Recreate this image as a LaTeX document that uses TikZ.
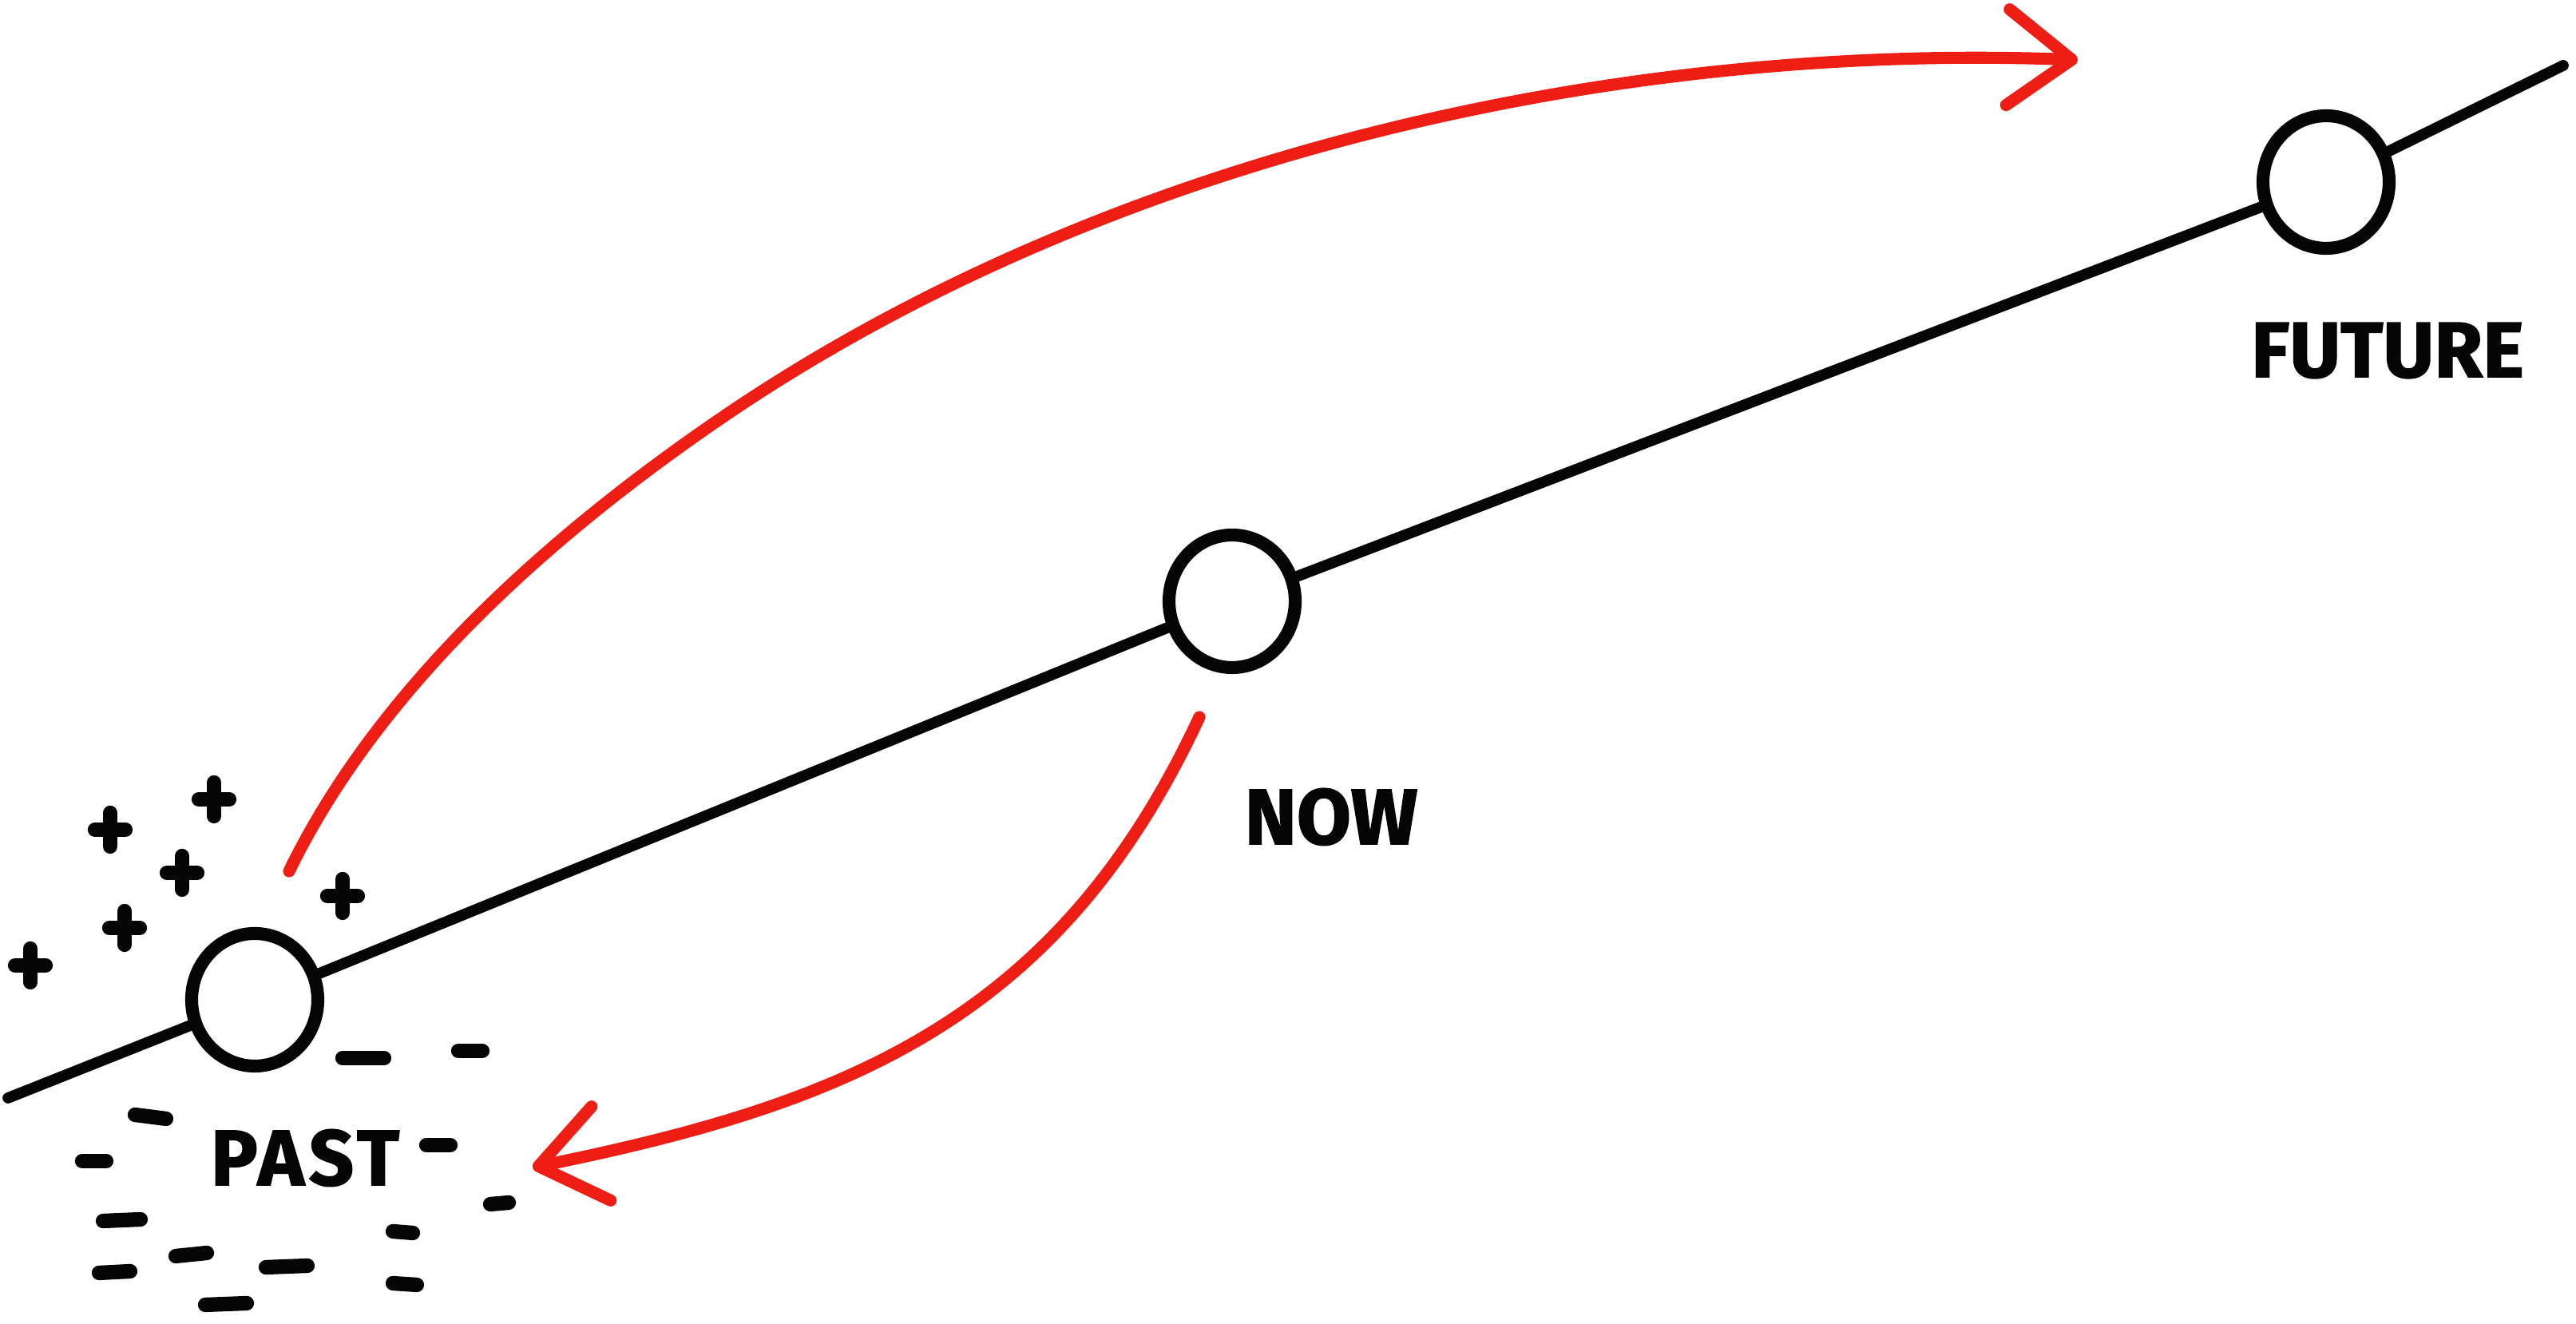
\documentclass[tikz,border=0pt]{standalone}
\usepackage{fontspec}
\setmainfont{Fira Sans}
\usetikzlibrary{shapes.geometric}
\usetikzlibrary{arrows.meta}
\usetikzlibrary{calc}
\def\normaledge{3.9pt}
\def\ringedge{4.6pt}
\def\signedge{5.2pt}
\def\rededge{4.3pt}
\definecolor{edgeblack}{rgb}{0.02,0.02,0.02}
\definecolor{markerred}{RGB}{238,30,20}

\begin{document}
\begin{tikzpicture}[x = 1cm, y = 1cm,
        moment/.style={ellipse, draw=edgeblack, line width=\ringedge, fill=white, minimum width=1.58cm, minimum height=1.66cm, inner sep=0pt},
        timetag/.style={font=\bfseries\fontsize{28}{28}\selectfont\addfontfeatures{FakeBold=1.5}, text=edgeblack, inner sep=0pt},
        signstroke/.style={line width=\signedge, line cap=round, color=edgeblack},
        redjump/.style={line width=\rededge, line cap=round, line join=round, color=markerred, -{Straight Barb[round, length=0.8cm, width=1.2cm]}}]
        \useasboundingbox (0,0) rectangle (32.26,16.58);

            \node [moment] (past) at (3.19,4.06){};
            \node [moment] (now) at (15.43,9.05){};
            \node [moment] (future) at (29.13,14.30){};
            \coordinate (l0) at (0.10,2.83);
            \coordinate (l1) at (32.10,15.76);
        \draw [line width=\normaledge, color=edgeblack, line cap=round] (l0) -- (past) -- (now) -- (future) -- (l1);

        \node [timetag, font=\bfseries\fontsize{28}{28}\selectfont\addfontfeatures{FakeBold=1.5,LetterSpace=6}] (pastlbl) at ($(past) + (0.63,-1.98)$){PAST};
        \node [timetag] (nowlbl) at ($(now) + (1.24,-2.70)$){NOW};
        \node [timetag] (futurelbl) at ($(future) + (0.77,-2.11)$){FUTURE};

        % forward leap
            \coordinate (leapfrom) at ($(past) + (0.43,1.61)$);
            \coordinate (leapmid) at (9.10,11.39);
            \coordinate (leapto) at (26.02,15.83);
        \draw [redjump] (leapfrom) .. controls (4.76,8.01) and (6.95,9.93) .. (leapmid)
            .. controls (13.90,14.64) and (20.22,16.05) .. (leapto);

        % way back
            \coordinate (backfrom) at ($(now) + (-0.41,-1.45)$);
            \coordinate (backto) at (6.67,1.96);
        \draw [redjump] (backfrom) .. controls (13.25,3.8) and (10.6,2.76) .. (backto);

        % pluses above
        \draw [signstroke] (2.68,6.57) ++(-0.19,0) -- ++(0.38,0) ++(-0.19,-0.21) -- ++(0,0.42);
        \draw [signstroke] (1.38,6.19) ++(-0.19,0) -- ++(0.38,0) ++(-0.19,-0.21) -- ++(0,0.42);
        \draw [signstroke] (2.28,5.65) ++(-0.19,0) -- ++(0.38,0) ++(-0.19,-0.21) -- ++(0,0.42);
        \draw [signstroke] (1.56,4.96) ++(-0.19,0) -- ++(0.38,0) ++(-0.19,-0.21) -- ++(0,0.42);
        \draw [signstroke] (0.38,4.49) ++(-0.19,0) -- ++(0.38,0) ++(-0.19,-0.21) -- ++(0,0.42);
        \draw [signstroke] (4.29,5.36) ++(-0.19,0) -- ++(0.38,0) ++(-0.19,-0.21) -- ++(0,0.42);

        % minuses below
        \draw [signstroke] (4.29,3.33) -- (4.81,3.33);
        \draw [signstroke] (5.74,3.42) -- (6.04,3.42);
        \draw [signstroke] (1.69,2.62) -- (2.08,2.57);
        \draw [signstroke] (1.03,2.04) -- (1.33,2.04);
        \draw [signstroke] (5.34,2.24) -- (5.64,2.24);
        \draw [signstroke] (1.29,1.29) -- (1.76,1.31);
        \draw [signstroke] (6.14,1.50) -- (6.37,1.52);
        \draw [signstroke] (4.92,1.16) -- (5.17,1.14);
        \draw [signstroke] (2.20,0.85) -- (2.59,0.89);
        \draw [signstroke] (1.24,0.64) -- (1.63,0.66);
        \draw [signstroke] (3.33,0.71) -- (3.85,0.73);
        \draw [signstroke] (4.92,0.51) -- (5.22,0.49);
        \draw [signstroke] (2.57,0.24) -- (3.09,0.26);

        \end{tikzpicture}
\end{document}
